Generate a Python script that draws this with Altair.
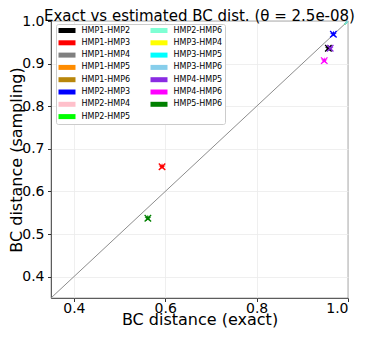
import math
import altair as alt
import pandas as pd

# ---- data ----
pairs = ["HMP1-HMP2", "HMP1-HMP3", "HMP1-HMP4", "HMP1-HMP5", "HMP1-HMP6",
         "HMP2-HMP3", "HMP2-HMP4", "HMP2-HMP5", "HMP2-HMP6", "HMP3-HMP4",
         "HMP3-HMP5", "HMP3-HMP6", "HMP4-HMP5", "HMP4-HMP6", "HMP5-HMP6"]
exact = [0.957, 0.593, 1.0, 1.0, 1.0,
         0.968, 1.0, 1.0, 1.0, 1.0,
         1.0, 1.0, 0.961, 0.948, 0.562]
sampling = [0.936, 0.658, 1.0, 1.0, 1.0,
            0.969, 1.0, 1.0, 1.0, 1.0,
            1.0, 1.0, 0.936, 0.907, 0.537]
colors = ["#000000", "#ff0000", "#808080", "#ff8c00", "#b8860b",
          "#0000ff", "#ffc0cb", "#00ff00", "#7fffd4", "#ffff00",
          "#00ffff", "#87ceeb", "#8a2be2", "#ff00ff", "#008000"]
x_ticks = [0.4, 0.6, 0.8, 1.0]
y_ticks = [0.4, 0.5, 0.6, 0.7, 0.8, 0.9, 1.0]
diag = [0.35, 1.0]

df = pd.DataFrame({"pair": pairs, "exact": exact, "sampling": sampling})
diag_df = pd.DataFrame({"exact": diag, "sampling": diag})

# star path in [-1, 1]
pts = []
for k in range(10):
    r = 1.0 if k % 2 == 0 else 0.42
    a = -math.pi / 2 + k * math.pi / 5
    pts.append(f"{r*math.cos(a):.3f},{r*math.sin(a):.3f}")
star_path = "M" + "L".join(pts) + "Z"
x_path = "M-1,-1L1,1M-1,1L1,-1"
rect_path = "M-2.833,-0.833H2.833V0.833H-2.833Z"

xscale = alt.Scale(domain=[0.35, 1.0], nice=False, zero=False)
yscale = alt.Scale(domain=[0.35, 1.0], nice=False, zero=False)
cscale = alt.Scale(domain=pairs, range=colors)

xax = alt.Axis(values=x_ticks, format=".1f", title="BC distance (exact)",
               labelPadding=0, titleBaseline="alphabetic", titleY=26.5)
yax = alt.Axis(values=y_ticks, format=".1f", title="BC distance (sampling)",
               titleBaseline="alphabetic", titleX=-29.5)

line = alt.Chart(diag_df).mark_line(color="#8c8c8c", strokeWidth=1, clip=True).encode(
    x=alt.X("exact:Q", scale=xscale, axis=xax),
    y=alt.Y("sampling:Q", scale=yscale, axis=yax),
)

stars = alt.Chart(df).mark_point(shape=star_path, filled=True, size=49, opacity=1, clip=True,
                                 strokeWidth=0).encode(
    x=alt.X("exact:Q", scale=xscale),
    y=alt.Y("sampling:Q", scale=yscale),
    color=alt.Color("pair:N", scale=cscale, legend=alt.Legend(
        title=None, orient="none", legendX=5, legendY=3, columns=2,
        symbolType=rect_path, symbolSize=36, symbolStrokeWidth=0, symbolOpacity=1,
        symbolOffset=4.5, labelOffset=10.5, labelFontSize=8, labelFont="DejaVu Sans",
        labelColor="black", rowPadding=4.3, columnPadding=20, padding=2.5,
        strokeColor="#cccccc", fillColor="white", cornerRadius=2,
    )),
)

crosses = alt.Chart(df).mark_point(shape=x_path, filled=False, size=42, strokeWidth=1.3,
                                   opacity=1, clip=True).encode(
    x=alt.X("exact:Q", scale=xscale),
    y=alt.Y("sampling:Q", scale=yscale),
    color=alt.Color("pair:N", scale=cscale, legend=None),
)

chart = alt.layer(line, stars, crosses).properties(
    width=297, height=277,
    padding={"left": 43, "top": 13, "right": 9, "bottom": 34},
    autosize=alt.AutoSizeParams(type="none"),
    title=alt.TitleParams(
        "Exact vs estimated BC dist. (θ = 2.5e-08)",
        font="DejaVu Sans", fontSize=15, fontWeight="normal", color="black",
        anchor="middle", frame="group", baseline="alphabetic", offset=-14.5, dy=7,
    ),
).configure_view(stroke="black", strokeWidth=0.8).configure_axis(
    domain=False, grid=True, gridColor="#ebebeb", gridWidth=0.8,
    tickColor="black", tickSize=3.5, tickWidth=0.8, labelPadding=3.5,
    labelFont="DejaVu Sans", labelFontSize=14, labelColor="black",
    titleFont="DejaVu Sans", titleFontSize=16, titleFontWeight="normal", titleColor="black",
)

chart.save("out.html", embed_options={"renderer": "svg", "actions": False})
